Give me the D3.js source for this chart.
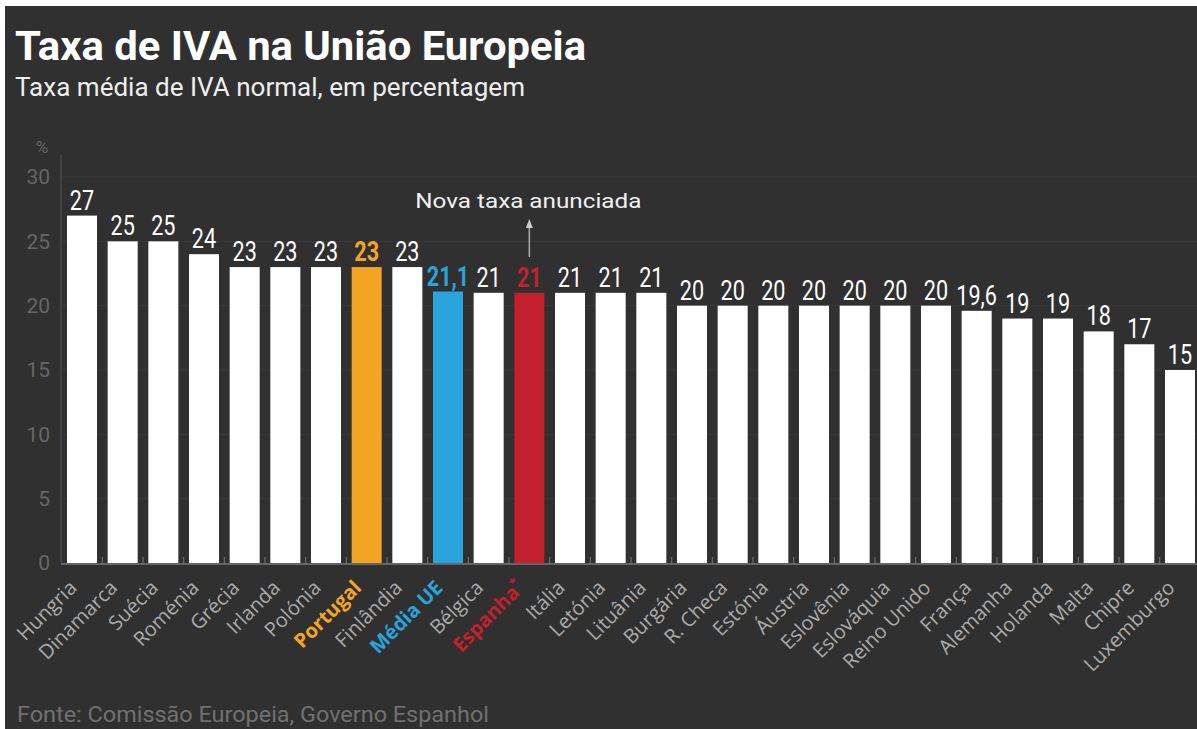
<!DOCTYPE html>
<html>
<head>
<meta charset="utf-8">
<script src="https://cdn.jsdelivr.net/npm/d3@7"></script>
<style>
  html, body { margin: 0; padding: 0; background: #fff; }
  svg { display: block; }
</style>
</head>
<body>
<svg id="chart"></svg>
<script>
// Data
const countries = ['Hungria', 'Dinamarca', 'Suécia', 'Roménia', 'Grécia', 'Irlanda', 'Polónia', 'Portugal',
  'Finlândia', 'Média UE', 'Bélgica', 'Espanha*', 'Itália', 'Letónia', 'Lituânia', 'Burgária', 'R. Checa',
  'Estónia', 'Áustria', 'Eslovênia', 'Eslováquia', 'Reino Unido', 'França', 'Alemanha', 'Holanda', 'Malta',
  'Chipre', 'Luxemburgo'];
const rates = [27, 25, 25, 24, 23, 23, 23, 23, 23, 21.1, 21, 21, 21, 21, 21, 20, 20, 20, 20, 20, 20, 20,
  19.6, 19, 19, 18, 17, 15];
const yTicks = [0, 5, 10, 15, 20, 25, 30];
const highlight = { 'Portugal': '#f5a524', 'Média UE': '#29a4dd', 'Espanha*': '#c3202e' };

const W = 1197, H = 729;
const font = 'Roboto, sans-serif';

const svg = d3.select('#chart').attr('width', W).attr('height', H);

// background panel
svg.append('rect').attr('x', 5).attr('y', 6).attr('width', W - 5).attr('height', H - 6).attr('fill', '#303030');

// Scales
const x = d3.scaleBand().domain(countries).range([62, 1200]).paddingInner(0.262).paddingOuter(0.123);
const y = d3.scaleLinear().domain([0, 30]).range([563, 177]);

// gridlines
svg.append('g').selectAll('line')
  .data(yTicks.filter(d => d > 0))
  .join('line')
  .attr('x1', 62).attr('x2', W)
  .attr('y1', d => y(d)).attr('y2', d => y(d))
  .attr('stroke', '#393939').attr('stroke-width', 1);

// y axis
const yAxis = svg.append('g')
  .attr('transform', 'translate(61,0)')
  .call(d3.axisLeft(y).tickValues(yTicks).tickSize(0).tickPadding(11));
yAxis.select('.domain').attr('stroke', '#555').attr('d', `M0,${y(30) - 22}V${y(0)}`);
yAxis.selectAll('text')
  .attr('fill', '#666').attr('font-size', 21).attr('font-family', font);

svg.append('text').attr('x', 42).attr('y', 153).attr('text-anchor', 'middle')
  .attr('fill', '#666').attr('font-size', 17).attr('font-family', font).text('%');

// bars
svg.append('g').selectAll('rect')
  .data(countries)
  .join('rect')
  .attr('x', d => x(d))
  .attr('y', (d, i) => y(rates[i]))
  .attr('width', x.bandwidth())
  .attr('height', (d, i) => y(0) - y(rates[i]))
  .attr('fill', d => highlight[d] || '#ffffff');

// baseline + ticks between bars
svg.append('line').attr('x1', 61).attr('x2', W).attr('y1', y(0) + 1).attr('y2', y(0) + 1)
  .attr('stroke', '#777').attr('stroke-width', 1.5);
svg.append('g').selectAll('line')
  .data(countries.slice(1))
  .join('line')
  .attr('x1', d => x(d) - (x.step() - x.bandwidth()) / 2)
  .attr('x2', d => x(d) - (x.step() - x.bandwidth()) / 2)
  .attr('y1', y(0) - 6).attr('y2', y(0) + 1)
  .attr('stroke', '#777').attr('stroke-width', 1);

// value labels (condensed look)
svg.append('g').selectAll('text')
  .data(countries)
  .join('text')
  .attr('transform', (d, i) => `translate(${x(d) + x.bandwidth() / 2},${y(rates[i]) - 6}) scale(0.8,1)`)
  .attr('text-anchor', 'middle')
  .attr('font-family', font)
  .attr('font-size', 27)
  .attr('font-weight', d => highlight[d] ? 'bold' : 'normal')
  .attr('fill', d => highlight[d] || '#ffffff')
  .text((d, i) => String(rates[i]).replace('.', ','));

// x labels
const xl = svg.append('g').selectAll('text')
  .data(countries)
  .join('text')
  .attr('transform', d => `translate(${x(d) + x.bandwidth() / 2 - 4},${y(0) + 26}) rotate(-45)`)
  .attr('text-anchor', 'end')
  .attr('font-family', '"Open Sans", sans-serif')
  .attr('font-size', 20)
  .attr('font-weight', d => highlight[d] ? 'bold' : 'normal')
  .attr('fill', d => highlight[d] || '#ababab');
xl.append('tspan').text(d => d.replace('*', ''));
xl.filter(d => d.includes('*')).append('tspan')
  .attr('font-size', 12).attr('dy', -9).text('*');

// annotation
const spainX = x('Espanha*') + x.bandwidth() / 2;
svg.append('text').attr('x', spainX - 1).attr('y', 208).attr('text-anchor', 'middle')
  .attr('fill', '#f2f2f2').attr('font-size', 21).attr('font-family', font)
  .attr('textLength', 226).attr('lengthAdjust', 'spacingAndGlyphs')
  .text('Nova taxa anunciada');
svg.append('line').attr('x1', spainX).attr('x2', spainX).attr('y1', 257).attr('y2', 224)
  .attr('stroke', '#aaa').attr('stroke-width', 1.5);
svg.append('path').attr('d', `M${spainX - 3.5},228L${spainX},219L${spainX + 3.5},228Z`).attr('fill', '#ccc');

// titles
svg.append('text').attr('x', 15).attr('y', 60)
  .attr('fill', '#fff').attr('font-size', 40).attr('font-weight', 'bold').attr('font-family', font)
  .attr('textLength', 571).attr('lengthAdjust', 'spacingAndGlyphs')
  .text('Taxa de IVA na União Europeia');
svg.append('text').attr('x', 15).attr('y', 96)
  .attr('fill', '#eee').attr('font-size', 26).attr('font-family', font)
  .attr('textLength', 510).attr('lengthAdjust', 'spacingAndGlyphs')
  .text('Taxa média de IVA normal, em percentagem');

// source
svg.append('text').attr('x', 17).attr('y', 722)
  .attr('fill', '#707070').attr('font-size', 22).attr('font-family', font)
  .attr('textLength', 472).attr('lengthAdjust', 'spacingAndGlyphs')
  .text('Fonte: Comissão Europeia, Governo Espanhol');
</script>
</body>
</html>
